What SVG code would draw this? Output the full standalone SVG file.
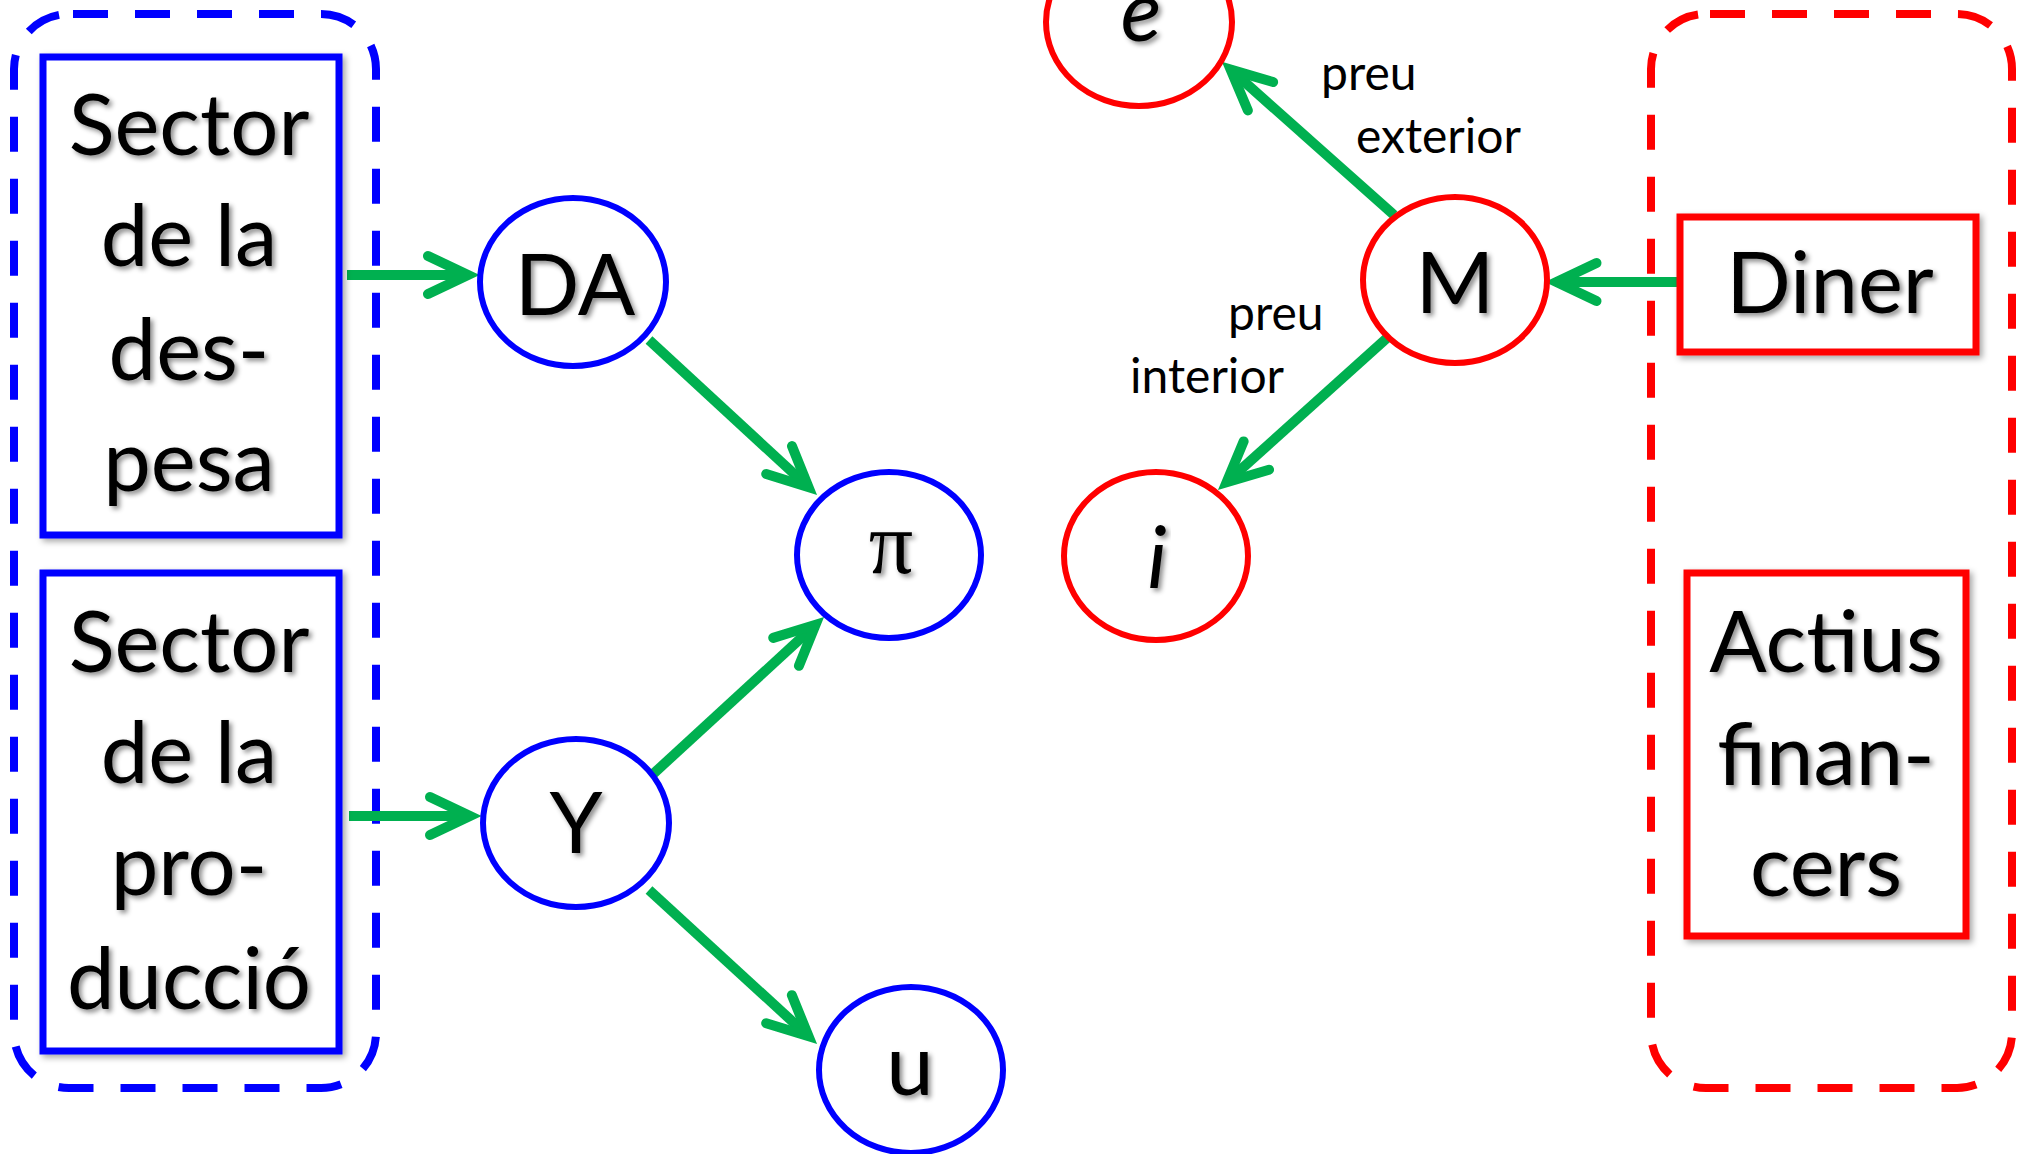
<svg xmlns="http://www.w3.org/2000/svg" width="2029" height="1154" viewBox="0 0 2029 1154">
<style>
.bg{fill:#fff}
.group-blue{fill:none;stroke:#0000FF;stroke-width:8;stroke-dasharray:35 27;stroke-dashoffset:58}
.group-red{fill:none;stroke:#FF0000;stroke-width:8;stroke-dasharray:35 27;stroke-dashoffset:58}
.box-blue{fill:#fff;stroke:#0000FF;stroke-width:7;filter:url(#boxShadow)}
.box-red{fill:#fff;stroke:#FF0000;stroke-width:7;filter:url(#boxShadow)}
.node-blue{fill:#fff;stroke:#0000FF;stroke-width:6}
.node-red{fill:#fff;stroke:#FF0000;stroke-width:6}
.big{font-family:Lato,"Open Sans","Liberation Sans",sans-serif;font-size:85px;fill:#000;text-anchor:middle;filter:url(#textShadow)}
.ital{font-style:italic}
.sym{font-family:"Liberation Serif","DejaVu Serif",serif;font-size:88px}
.lbl{font-family:Lato,"Open Sans","Liberation Sans",sans-serif;font-size:48px;fill:#000}
.conn{fill:none;stroke:#00B050;stroke-width:10;marker-end:url(#arrow)}
</style>
<defs>
<filter id="textShadow" x="-20%" y="-20%" width="140%" height="140%">
<feDropShadow dx="3" dy="3" stdDeviation="2.5" flood-color="#000" flood-opacity="0.45"/>
</filter>
<filter id="boxShadow" x="-10%" y="-10%" width="120%" height="120%">
<feDropShadow dx="3" dy="3" stdDeviation="3" flood-color="#000" flood-opacity="0.35"/>
</filter>
<marker id="arrow" viewBox="-60 -35 90 70" markerWidth="90" markerHeight="70" refX="0" refY="0" orient="auto" markerUnits="userSpaceOnUse">
<path d="M -40 -19 L 0 0 L -40 19" fill="none" stroke="#00B050" stroke-width="10" stroke-linecap="round" stroke-linejoin="miter"/>
</marker>
</defs>
<rect class="bg" x="0" y="0" width="2029" height="1154"/>

<g id="group-left">
<rect class="group-blue" x="14" y="14" width="362" height="1074" rx="55" ry="55"/>
</g>
<g id="group-right">
<rect class="group-red" x="1651" y="14" width="361" height="1074" rx="55" ry="55"/>
</g>

<g id="connectors">
<path class="conn" d="M347 275 L468 275"/>
<path class="conn" d="M349 816 L470 816"/>
<path class="conn" d="M649 340 L808.5 487.2"/>
<path class="conn" d="M652 775 L815.5 624.8"/>
<path class="conn" d="M649 890 L808.5 1036.2"/>
<path class="conn" d="M1394 215 L1230.6 69.6"/>
<path class="conn" d="M1387 338 L1226.6 482.3"/>
<path class="conn" d="M1679 282 L1556.5 282"/>
</g>

<g id="sector-despesa">
<rect class="box-blue" x="43" y="57" width="296" height="478"/>
<text class="big" x="189" y="155">Sector</text>
<text class="big" x="189" y="266">de la</text>
<text class="big" x="189" y="380">des-</text>
<text class="big" x="189" y="491">pesa</text>
</g>

<g id="sector-produccio">
<rect class="box-blue" x="43" y="573" width="296" height="478"/>
<text class="big" x="189" y="672">Sector</text>
<text class="big" x="189" y="783">de la</text>
<text class="big" x="189" y="895">pro-</text>
<text class="big" x="189" y="1009">ducció</text>
</g>

<g id="node-DA">
<ellipse class="node-blue" cx="573" cy="282" rx="93" ry="84"/>
<text class="big" x="575" y="315">DA</text>
</g>

<g id="node-Y">
<ellipse class="node-blue" cx="576" cy="823" rx="93" ry="84"/>
<text class="big" x="576" y="853">Y</text>
</g>

<g id="node-pi">
<ellipse class="node-blue" cx="889" cy="555" rx="92" ry="83"/>
<text class="big sym" x="891" y="573">π</text>
</g>

<g id="node-u">
<ellipse class="node-blue" cx="911" cy="1070" rx="92" ry="83"/>
<text class="big" x="910" y="1095">u</text>
</g>

<g id="node-e">
<ellipse class="node-red" cx="1139" cy="22" rx="93" ry="84"/>
<text class="big ital" x="1141" y="41">e</text>
</g>

<g id="node-i">
<ellipse class="node-red" cx="1156" cy="556" rx="92" ry="84"/>
<text class="big ital" x="1157" y="588">i</text>
</g>

<g id="node-M">
<ellipse class="node-red" cx="1455" cy="280" rx="92" ry="83"/>
<text class="big" x="1455" y="313">M</text>
</g>

<g id="diner">
<rect class="box-red" x="1680" y="217" width="296" height="135"/>
<text class="big" x="1830" y="313">Diner</text>
</g>

<g id="actius-financers">
<rect class="box-red" x="1687" y="573" width="279" height="363"/>
<text class="big" x="1826" y="672">Actius</text>
<text class="big" x="1826" y="785">finan-</text>
<text class="big" x="1826" y="896">cers</text>
</g>

<g id="labels">
<text class="lbl" x="1321" y="90">preu</text>
<text class="lbl" x="1356" y="153">exterior</text>
<text class="lbl" x="1228" y="330">preu</text>
<text class="lbl" x="1130" y="393">interior</text>
</g>
</svg>
